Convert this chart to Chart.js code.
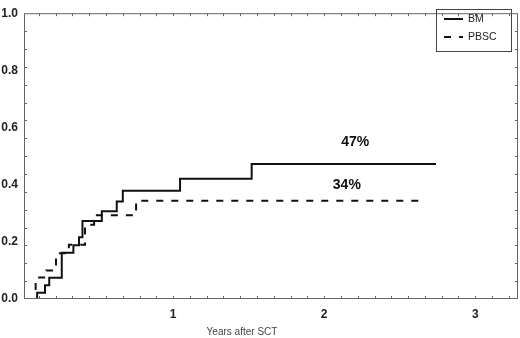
<!DOCTYPE html>
<html>
<head>
<meta charset="utf-8">
<script src="https://cdn.jsdelivr.net/npm/chart.js@4.4.1/dist/chart.umd.min.js"></script>
<style>
  html, body { margin: 0; padding: 0; background: #fff; }
  #wrap { width: 520px; height: 338px; }
</style>
</head>
<body>
<div id="wrap"><canvas id="canvas"></canvas></div>
<script>
// step curves: value holds from this time (years) until the next point
const bmYears   = [0.04, 0.10, 0.152, 0.18, 0.263, 0.34, 0.377, 0.40, 0.528, 0.627, 0.667, 1.046, 1.52, 2.74];
const bmValues  = [0.0, 0.022, 0.048, 0.074, 0.162, 0.188, 0.216, 0.273, 0.307, 0.341, 0.379, 0.421, 0.472, 0.472];
const pbscYears  = [0.05, 0.09, 0.16, 0.225, 0.31, 0.417, 0.477, 0.755, 2.65];
const pbscValues = [0.0, 0.075, 0.10, 0.16, 0.19, 0.26, 0.293, 0.344, 0.344];

const seriesNames = ['BM', 'PBSC'];
const endLabels = ['47%', '34%'];
const endLabelPos = [[2.205, 0.548], [2.15, 0.397]];
const xTickLabels = [1, 2, 3];
const yTickLabels = [0, 0.2, 0.4, 0.6, 0.8, 1.0];

const toPoints = (xs, ys) => xs.map((x, i) => ({ x: x, y: ys[i] }));

// frame, inward minor ticks, legend box, percent labels, axis title
const decorations = {
  id: 'decorations',
  afterDraw(chart) {
    const ctx = chart.ctx;
    const a = chart.chartArea;
    const xs = chart.scales.x, ys = chart.scales.y;
    ctx.save();
    ctx.strokeStyle = '#666';
    ctx.lineWidth = 1;
    ctx.strokeRect(a.left + 0.5, a.top + 0.5, a.right - a.left - 1, a.bottom - a.top - 1);

    ctx.beginPath();
    for (let k = 1; k * 0.0625 < 1; k++) {
      const py = Math.round(ys.getPixelForValue(k * 0.0625)) + 0.5;
      ctx.moveTo(a.left, py); ctx.lineTo(a.left + 3, py);
      ctx.moveTo(a.right, py); ctx.lineTo(a.right - 3, py);
    }
    for (let k = 1; k / 9 < xs.max; k++) {
      const px = Math.round(xs.getPixelForValue(k / 9)) + 0.5;
      ctx.moveTo(px, a.bottom); ctx.lineTo(px, a.bottom - 3);
      ctx.moveTo(px, a.top); ctx.lineTo(px, a.top + 3);
    }
    ctx.stroke();

    // legend
    ctx.strokeStyle = '#444';
    ctx.strokeRect(436.5, 9.5, 75, 42);
    ctx.font = '10.5px "Liberation Sans", Arial, sans-serif';
    ctx.fillStyle = '#222';
    ctx.textBaseline = 'middle';
    ctx.textAlign = 'left';
    const rows = [19, 37];
    chart.data.datasets.forEach((ds, i) => {
      ctx.strokeStyle = '#111';
      ctx.lineWidth = 2;
      ctx.setLineDash(ds.borderDash || []);
      ctx.beginPath();
      ctx.moveTo(444, rows[i]); ctx.lineTo(463, rows[i]);
      ctx.stroke();
      ctx.setLineDash([]);
      ctx.fillText(ds.label, 468, rows[i] + 0.5);
    });

    // percent labels
    ctx.font = 'bold 14px "Liberation Sans", Arial, sans-serif';
    ctx.fillStyle = '#111';
    ctx.textAlign = 'center';
    endLabels.forEach((t, i) => {
      ctx.fillText(t, xs.getPixelForValue(endLabelPos[i][0]), ys.getPixelForValue(endLabelPos[i][1]));
    });

    // axis title
    ctx.font = '10px "Liberation Sans", Arial, sans-serif';
    ctx.fillStyle = '#444';
    ctx.fillText('Years after SCT', 242, 332);
    ctx.restore();
  }
};

new Chart(document.getElementById('canvas'), {
  type: 'line',
  data: {
    datasets: [{
      label: seriesNames[0],
      data: toPoints(bmYears, bmValues),
      borderColor: '#111',
      borderWidth: 2,
      stepped: 'before',
      pointRadius: 0,
      fill: false
    }, {
      label: seriesNames[1],
      data: toPoints(pbscYears, pbscValues),
      borderColor: '#111',
      borderWidth: 2,
      borderDash: [7, 8],
      stepped: 'before',
      pointRadius: 0,
      fill: false
    }]
  },
  options: {
    responsive: true,
    maintainAspectRatio: false,
    animation: false,
    layout: { padding: { top: 7, right: 2, left: 0, bottom: 0 } },
    plugins: {
      legend: { display: false },
      tooltip: { enabled: false }
    },
    scales: {
      x: {
        type: 'linear',
        min: 0.013,
        max: 3.283,
        grid: { display: false, drawTicks: false },
        border: { display: false },
        afterFit: (s) => { s.height = 39; },
        afterBuildTicks: (s) => { s.ticks = xTickLabels.map(v => ({ value: v })); },
        ticks: {
          autoSkip: false,
          maxRotation: 0,
          padding: 8,
          color: '#222',
          font: { family: '"Liberation Sans", Arial, sans-serif', size: 12, weight: 'bold' },
          callback: (v) => String(v)
        }
      },
      y: {
        min: 0,
        max: 1,
        grid: { display: false, drawTicks: false },
        border: { display: false },
        afterFit: (s) => { s.width = 24; },
        afterBuildTicks: (s) => { s.ticks = yTickLabels.map(v => ({ value: v })); },
        ticks: {
          autoSkip: false,
          padding: 6,
          color: '#222',
          font: { family: '"Liberation Sans", Arial, sans-serif', size: 12, weight: 'bold' },
          callback: (v) => v.toFixed(1)
        }
      }
    }
  },
  plugins: [decorations]
});
</script>
</body>
</html>
